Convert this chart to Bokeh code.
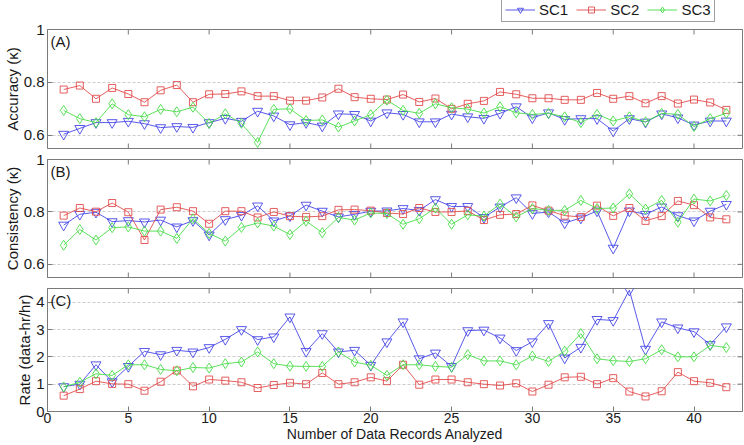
import math
from bokeh.plotting import figure
from bokeh.layouts import column
from bokeh.models import (ColumnDataSource, FixedTicker, Range1d,
                          Legend, LegendItem, Label, PrintfTickFormatter)
from bokeh.embed import file_html
from bokeh.resources import INLINE

# ---------------- data ----------------
records = list(range(1, 43))

acc_sc1 = [0.604, 0.626, 0.648, 0.648, 0.653, 0.644, 0.629, 0.633, 0.630, 0.648,
           0.664, 0.653, 0.691, 0.673, 0.640, 0.648, 0.635, 0.681, 0.679, 0.654,
           0.685, 0.679, 0.651, 0.651, 0.680, 0.670, 0.664, 0.683, 0.708, 0.666,
           0.685, 0.660, 0.663, 0.663, 0.616, 0.663, 0.650, 0.681, 0.666, 0.639,
           0.654, 0.654]
acc_sc2 = [0.773, 0.788, 0.738, 0.779, 0.756, 0.725, 0.770, 0.790, 0.725, 0.755,
           0.756, 0.766, 0.748, 0.748, 0.731, 0.731, 0.743, 0.776, 0.744, 0.738,
           0.735, 0.754, 0.726, 0.739, 0.700, 0.719, 0.730, 0.764, 0.755, 0.740,
           0.740, 0.734, 0.734, 0.760, 0.738, 0.748, 0.721, 0.748, 0.720, 0.735,
           0.724, 0.696]
acc_sc3 = [0.694, 0.663, 0.648, 0.719, 0.678, 0.670, 0.698, 0.689, 0.706, 0.645,
           0.681, 0.645, 0.573, 0.698, 0.700, 0.656, 0.658, 0.631, 0.654, 0.678,
           0.733, 0.694, 0.683, 0.719, 0.704, 0.699, 0.684, 0.708, 0.685, 0.679,
           0.683, 0.670, 0.648, 0.679, 0.654, 0.670, 0.651, 0.683, 0.679, 0.633,
           0.663, 0.683]

cons_sc1 = [0.750, 0.791, 0.799, 0.763, 0.767, 0.762, 0.769, 0.743, 0.767, 0.712,
            0.771, 0.787, 0.823, 0.766, 0.785, 0.826, 0.803, 0.781, 0.791, 0.803,
            0.804, 0.813, 0.806, 0.847, 0.821, 0.821, 0.779, 0.819, 0.854, 0.794,
            0.800, 0.758, 0.777, 0.804, 0.662, 0.804, 0.791, 0.819, 0.786, 0.766,
            0.803, 0.829]
cons_sc2 = [0.786, 0.815, 0.801, 0.834, 0.799, 0.693, 0.809, 0.818, 0.803, 0.755,
            0.803, 0.803, 0.779, 0.800, 0.784, 0.781, 0.784, 0.808, 0.809, 0.805,
            0.796, 0.792, 0.815, 0.800, 0.800, 0.804, 0.769, 0.789, 0.792, 0.825,
            0.805, 0.786, 0.781, 0.824, 0.785, 0.815, 0.766, 0.784, 0.842, 0.826,
            0.779, 0.772]
cons_sc3 = [0.673, 0.733, 0.693, 0.740, 0.743, 0.727, 0.727, 0.699, 0.774, 0.718,
            0.689, 0.741, 0.758, 0.746, 0.714, 0.765, 0.721, 0.779, 0.769, 0.796,
            0.794, 0.753, 0.774, 0.815, 0.753, 0.789, 0.784, 0.830, 0.781, 0.813,
            0.806, 0.806, 0.844, 0.813, 0.815, 0.869, 0.811, 0.844, 0.761, 0.849,
            0.842, 0.863]

rate_sc1 = [0.91, 1.00, 1.71, 1.09, 1.65, 2.20, 2.08, 2.24, 2.18, 2.34,
            2.64, 3.00, 2.63, 2.73, 3.46, 2.20, 2.85, 2.18, 2.24, 1.69,
            2.55, 3.28, 1.93, 2.14, 1.65, 2.96, 2.98, 2.69, 2.23, 2.55,
            3.22, 1.96, 2.35, 3.37, 3.33, 4.44, 2.28, 3.28, 3.06, 2.92,
            2.45, 3.10]
rate_sc2 = [0.58, 0.82, 1.11, 1.01, 1.00, 0.76, 1.09, 1.50, 0.92, 1.17,
            1.13, 1.07, 0.86, 0.97, 1.05, 1.00, 1.41, 1.00, 1.07, 1.25,
            1.11, 1.71, 0.98, 1.17, 1.17, 1.07, 1.00, 0.95, 1.03, 0.73,
            0.98, 1.25, 1.27, 1.00, 1.22, 0.73, 0.55, 0.74, 1.44, 1.11,
            1.05, 0.89]
rate_sc3 = [0.90, 1.07, 1.38, 1.32, 1.71, 1.71, 1.54, 1.49, 1.61, 1.59,
            1.75, 1.81, 2.18, 1.75, 1.66, 1.65, 1.65, 2.18, 1.81, 1.69,
            1.32, 1.71, 1.71, 1.65, 1.62, 2.08, 1.85, 1.85, 1.71, 2.03,
            1.83, 2.21, 2.85, 1.93, 1.86, 1.83, 1.93, 2.26, 2.00, 2.00,
            2.42, 2.34]

series_names = ["SC1", "SC2", "SC3"]
x_ticks = [0, 5, 10, 15, 20, 25, 30, 35, 40]
kappa_ticks = [0.6, 0.8, 1.0]
rate_ticks = [0, 1, 2, 3, 4]
panel_tags = ["(A)", "(B)", "(C)"]
y_titles = ["Accuracy (\u03ba)", "Consistency (\u03ba)", "Rate (data-hr/hr)"]
x_title = "Number of Data Records Analyzed"

# ---------------- style ----------------
FONT = "Liberation Sans"
FS = "15px"
TXT = "#1a1a1a"
FRAME = "#7a7a7a"
COLORS = ["#4646e8", "#e24c4c", "#48dc48"]
MARKERS = ["inverted_triangle", "square", "diamond"]
SIZES = [10, 7, 10]
W = 744
X_LO, X_HI = 0, 43


def style_axis(ax, ticks):
    ax.ticker = FixedTicker(ticks=ticks)
    ax.major_tick_in = 5
    ax.major_tick_out = 0
    ax.minor_tick_line_color = None
    ax.axis_line_color = FRAME
    ax.major_tick_line_color = FRAME
    ax.major_label_text_font = FONT
    ax.major_label_text_color = TXT
    ax.major_label_text_font_size = FS
    ax.major_label_standoff = 3
    ax.axis_label_text_font = FONT
    ax.axis_label_text_font_size = FS
    ax.axis_label_text_font_style = "normal"
    ax.axis_label_text_color = TXT


def make_panel(idx, ys, y_lo, y_hi, yticks, height, b_top, b_bot, show_x):
    src = ColumnDataSource(dict(x=records, s1=ys[0], s2=ys[1], s3=ys[2]))
    p = figure(width=W, height=height, x_range=Range1d(X_LO, X_HI),
               y_range=Range1d(y_lo, y_hi), output_backend="svg",
               toolbar_location=None, min_border_left=41, min_border_right=2,
               min_border_top=b_top, min_border_bottom=b_bot,
               x_axis_location="below" if show_x else None)
    p.outline_line_color = FRAME
    p.background_fill_color = "white"
    p.border_fill_color = "white"
    p.xgrid.visible = False
    p.ygrid.ticker = FixedTicker(ticks=yticks)
    p.ygrid.grid_line_color = "#cccccc"
    p.ygrid.grid_line_dash = "3 2"

    style_axis(p.yaxis[0], yticks)
    p.yaxis[0].formatter = PrintfTickFormatter(format="%g")
    p.yaxis[0].axis_label = y_titles[idx]
    p.yaxis[0].axis_label_standoff = 0
    if show_x:
        style_axis(p.xaxis[0], x_ticks)
        p.xaxis[0].major_label_text_font_size = "14px"
        p.xaxis[0].major_label_standoff = 1
        p.xaxis[0].axis_label = x_title
        p.xaxis[0].axis_label_text_font_size = "14px"
        p.xaxis[0].axis_label_standoff = 0

    # inward tick marks on the remaining sides of the box
    tick_src_x = ColumnDataSource(dict(x=x_ticks, top=[y_hi] * len(x_ticks),
                                       bot=[y_lo] * len(x_ticks)))
    p.scatter("x", "top", source=tick_src_x, marker="dash", size=10,
              angle=math.pi / 2, line_color=FRAME, line_width=1)
    if not show_x:
        p.scatter("x", "bot", source=tick_src_x, marker="dash", size=10,
                  angle=math.pi / 2, line_color=FRAME, line_width=1)
    tick_src_y = ColumnDataSource(dict(y=yticks, r=[X_HI] * len(yticks)))
    p.scatter("r", "y", source=tick_src_y, marker="dash", size=10,
              line_color=FRAME, line_width=1)

    for k, col in enumerate(["s1", "s2", "s3"]):
        p.line("x", col, source=src, line_color=COLORS[k], line_width=0.9)
        p.scatter("x", col, source=src, marker=MARKERS[k], size=SIZES[k],
                  line_color=COLORS[k], fill_color=None, line_width=0.9)

    frame_h = height - b_top - b_bot
    p.add_layout(Label(x=3, y=frame_h - 3, x_units="screen",
                       y_units="screen", text=panel_tags[idx],
                       text_font=FONT, text_font_size=FS, text_color=TXT,
                       text_baseline="top"))
    return p, src


pA, srcA = make_panel(0, [acc_sc1, acc_sc2, acc_sc3], 0.55, 1.0, kappa_ticks,
                      128, 7, 2, False)
pB, _ = make_panel(1, [cons_sc1, cons_sc2, cons_sc3], 0.55, 1.0, kappa_ticks,
                   130, 9, 3, False)
pC, _ = make_panel(2, [rate_sc1, rate_sc2, rate_sc3], 0.0, 4.5, rate_ticks,
                   165, 8, 34, True)

# ---- legend strip above the panels (its own renderers sit outside its view) ----
LEG_H = 22
pL = figure(width=W, height=LEG_H, x_range=Range1d(-20, -10),
            y_range=Range1d(-2, -1), output_backend="svg",
            toolbar_location=None, min_border_left=41, min_border_top=0,
            min_border_bottom=0, min_border_right=2,
            x_axis_location=None, y_axis_location=None)
pL.outline_line_color = None
pL.background_fill_color = "white"
pL.border_fill_color = "white"
pL.xgrid.visible = False
pL.ygrid.visible = False
items = []
for k, col in enumerate(["s1", "s2", "s3"]):
    ln = pL.line("x", col, source=srcA, line_color=COLORS[k], line_width=0.9)
    sc = pL.scatter("x", col, source=srcA, marker=MARKERS[k], size=SIZES[k],
                    line_color=COLORS[k], fill_color=None, line_width=0.9)
    items.append(LegendItem(label=series_names[k], renderers=[ln, sc]))
legend = Legend(items=items, orientation="horizontal", location=(454, 0),
                label_text_font=FONT, label_text_font_size=FS,
                label_text_color=TXT, glyph_width=30, glyph_height=15,
                label_height=15, label_standoff=4, spacing=8, padding=3,
                margin=0, border_line_color="#404040",
                background_fill_color="white", background_fill_alpha=1.0)
pL.add_layout(legend, "center")

layout = column(pL, pA, pB, pC, spacing=0)
open("out.html", "w").write(file_html(layout, INLINE))
